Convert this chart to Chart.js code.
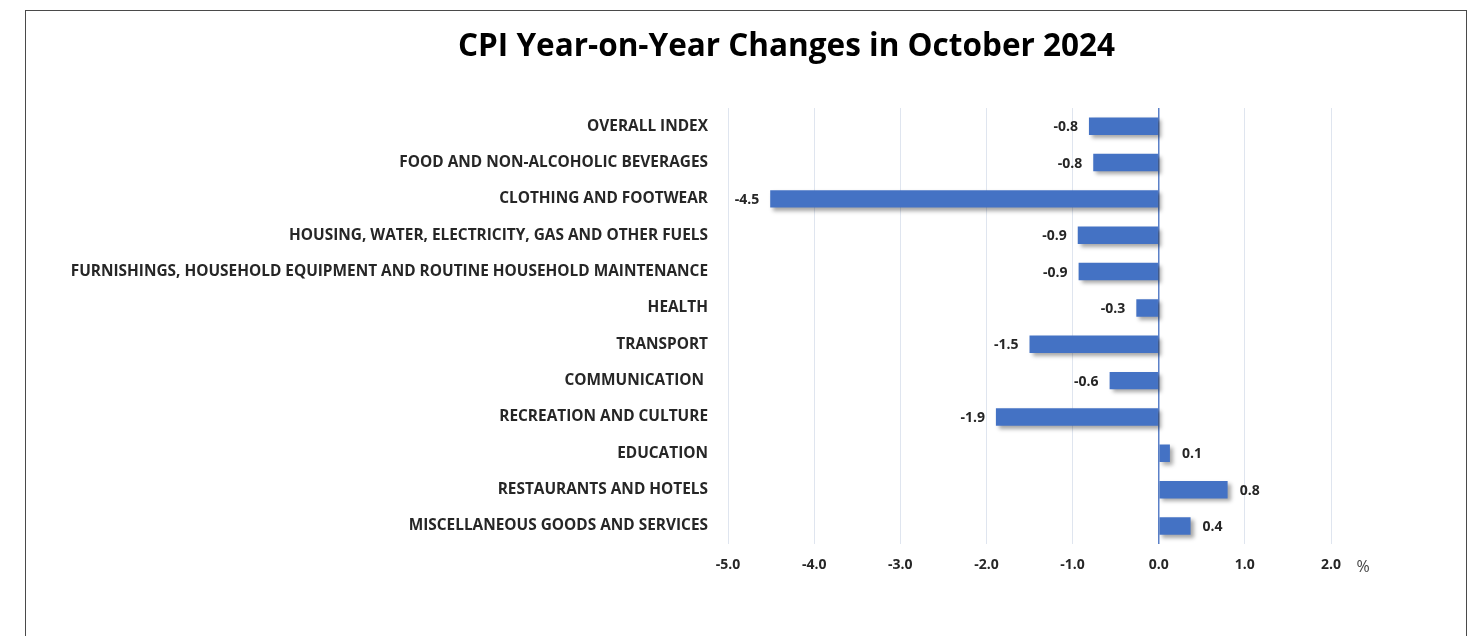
<!DOCTYPE html>
<html>
<head>
<meta charset="utf-8">
<script src="https://cdn.jsdelivr.net/npm/chart.js@4/dist/chart.umd.min.js"></script>
<style>
  body { margin: 0; background: #fff; }
  #frame {
    position: absolute; left: 25px; top: 10px;
    width: 1440px; height: 640px;
    border: 1px solid #4a4a4a;
  }
  #cpiChart { position: absolute; left: 0; top: 0; }
  #title {
    position: absolute; left: 0; top: 17px; width: 1521px;
    text-align: center; margin: 0;
    font: bold 31.5px "Open Sans", "DejaVu Sans", sans-serif;
    line-height: 1; color: #000;
  }
</style>
</head>
<body>
<div id="frame">
  <canvas id="cpiChart" width="1440" height="625"></canvas>
  <h1 id="title">CPI Year-on-Year Changes in October 2024</h1>
</div>
<script>
  // CPI groups, top to bottom
  const categories = [
    'OVERALL INDEX',
    'FOOD AND NON-ALCOHOLIC BEVERAGES',
    'CLOTHING AND FOOTWEAR',
    'HOUSING, WATER, ELECTRICITY, GAS AND OTHER FUELS',
    'FURNISHINGS, HOUSEHOLD EQUIPMENT AND ROUTINE HOUSEHOLD MAINTENANCE',
    'HEALTH',
    'TRANSPORT',
    'COMMUNICATION ',
    'RECREATION AND CULTURE',
    'EDUCATION',
    'RESTAURANTS AND HOTELS',
    'MISCELLANEOUS GOODS AND SERVICES'
  ];

  // year-on-year change, %
  const yoyChange = [-0.81, -0.76, -4.51, -0.94, -0.93, -0.26, -1.50, -0.57, -1.89, 0.13, 0.80, 0.37];

  const xTicks = [-5, -4, -3, -2, -1, 0, 1, 2];

  const FONT = '"Open Sans", "DejaVu Sans", sans-serif';
  const BLUE = '#4472c4';

  // soft drop shadow under the bars
  const barShadow = {
    id: 'barShadow',
    beforeDatasetsDraw(chart) {
      const ctx = chart.ctx;
      ctx.save();
      ctx.shadowColor = 'rgba(0, 0, 0, 0.35)';
      ctx.shadowBlur = 4;
      ctx.shadowOffsetX = 3;
      ctx.shadowOffsetY = 3;
    },
    afterDatasetsDraw(chart) {
      chart.ctx.restore();
    }
  };

  // value labels at the bar ends, plus the "%" unit after the axis
  const valueLabels = {
    id: 'valueLabels',
    afterDraw(chart) {
      const ctx = chart.ctx;
      const meta = chart.getDatasetMeta(0);
      ctx.save();
      ctx.font = 'bold 14px ' + FONT;
      ctx.fillStyle = '#262626';
      ctx.textBaseline = 'middle';
      meta.data.forEach(function (bar, i) {
        const v = yoyChange[i];
        const txt = v.toFixed(1);
        if (v < 0) {
          ctx.textAlign = 'right';
          ctx.fillText(txt, bar.x - 11, bar.y + 1);
        } else {
          ctx.textAlign = 'left';
          ctx.fillText(txt, bar.x + 12, bar.y + 1);
        }
      });

      const xs = chart.scales.x;
      ctx.font = '16px ' + FONT;
      ctx.fillStyle = '#444';
      ctx.textAlign = 'center';
      ctx.fillText('%', chart.chartArea.right + 32, xs.top + 23);
      ctx.restore();
    }
  };

  new Chart(document.getElementById('cpiChart'), {
    type: 'bar',
    data: {
      labels: categories,
      datasets: [{
        data: yoyChange,
        backgroundColor: BLUE,
        borderWidth: 0,
        categoryPercentage: 1,
        barPercentage: 0.48
      }]
    },
    options: {
      indexAxis: 'y',
      responsive: false,
      animation: false,
      layout: { padding: { left: 0, right: 135, top: 97, bottom: 51 } },
      plugins: {
        legend: { display: false },
        tooltip: { enabled: false },
        title: { display: false }
      },
      scales: {
        x: {
          min: -5,
          max: 2,
          afterBuildTicks: function (scale) {
            scale.ticks = xTicks.map(function (v) { return { value: v }; });
          },
          ticks: {
            padding: 12,
            color: '#262626',
            font: { family: FONT, size: 14, weight: 'bold' },
            callback: function (value) { return value.toFixed(1); }
          },
          grid: {
            drawTicks: false,
            color: function (c) { return c.tick && c.tick.value === 0 ? '#5b80c8' : '#dfe5ef'; },
            lineWidth: function (c) { return c.tick && c.tick.value === 0 ? 1.5 : 1; }
          },
          border: { display: false }
        },
        y: {
          afterFit: function (scale) { scale.width = 702; },
          ticks: {
            padding: 20,
            color: '#262626',
            font: { family: FONT, size: 15.4, weight: 'bold' }
          },
          grid: { display: false, drawTicks: false },
          border: { display: false }
        }
      }
    },
    plugins: [barShadow, valueLabels]
  });
</script>
</body>
</html>
